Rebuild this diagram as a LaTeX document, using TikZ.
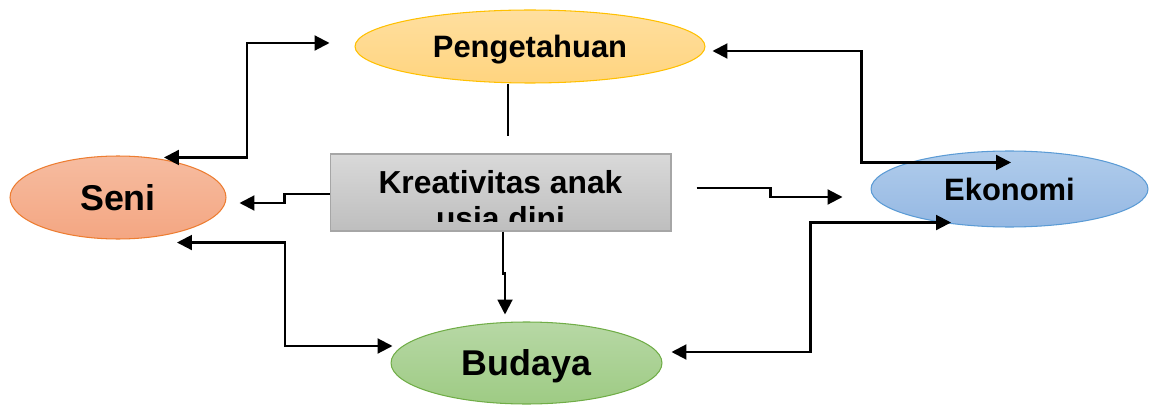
\documentclass[tikz,border=0pt]{standalone}
\usepackage{fontspec}
\setmainfont{Liberation Sans}
\usetikzlibrary{shapes.geometric,arrows.meta,calc}

\definecolor{pengTop}{HTML}{FFDF9F}
\definecolor{pengBot}{HTML}{FFD47F}
\definecolor{pengLine}{HTML}{FFC000}
\definecolor{seniTop}{HTML}{F6BCA0}
\definecolor{seniBot}{HTML}{F4A682}
\definecolor{seniLine}{HTML}{ED7D31}
\definecolor{ekoTop}{HTML}{B0CCEB}
\definecolor{ekoBot}{HTML}{95B8E3}
\definecolor{ekoLine}{HTML}{5B9BD5}
\definecolor{budTop}{HTML}{B7D8A5}
\definecolor{budBot}{HTML}{9ECB84}
\definecolor{budLine}{HTML}{70AD47}
\definecolor{kreatTop}{HTML}{D9D9D9}
\definecolor{kreatBot}{HTML}{BEBEBE}
\definecolor{kreatLine}{HTML}{A6A6A6}

\begin{document}
\begin{tikzpicture}[x=0.02cm,y=-0.02cm,
	>={Triangle[length=8.5pt,width=8.5pt]},
	blob/.style={ellipse,draw,inner sep=0pt,line width=0.6pt,text depth=0pt},
	bigtext/.style={font=\fontsize{20.4pt}{20.4pt}\selectfont\bfseries,text height=14.6pt},
	midtext/.style={font=\fontsize{17.6pt}{17.6pt}\selectfont\bfseries,text height=12.6pt},
	conn/.style={line width=1.2pt}]
	\useasboundingbox (0,0) rectangle (1151,405);

	% the five blocks
	\node[blob,midtext,draw=pengLine,top color=pengTop,bottom color=pengBot,
		minimum width=7.0cm,minimum height=1.46cm] (peng) at (530,46.5) {Pengetahuan};
	\node[blob,bigtext,draw=seniLine,top color=seniTop,bottom color=seniBot,
		minimum width=4.32cm,minimum height=1.66cm] (seni) at (118,197.5) {Seni};
	\node[blob,midtext,draw=ekoLine,top color=ekoTop,bottom color=ekoBot,
		minimum width=5.54cm,minimum height=1.52cm] (eko) at (1009.5,189) {Ekonomi};
	\node[blob,bigtext,draw=budLine,top color=budTop,bottom color=budBot,
		minimum width=5.42cm,minimum height=1.64cm] (bud) at (526.5,363) {Budaya};
	\node[draw=kreatLine,line width=0.6pt,top color=kreatTop,bottom color=kreatBot,
		minimum width=6.82cm,minimum height=1.54cm,inner sep=0pt] (kreat) at (500.5,192.5) {};
	\begin{scope}
		\clip (kreat.north west) rectangle ($(kreat.south east)+(0,-10)$);
		\node[align=center,inner sep=0pt,anchor=base,
			font=\fontsize{18.1pt}{20.4pt}\selectfont\bfseries] (kreattext)
			at ($(kreat.north)+(0,76)$) {Kreativitas anak\\usia dini};
	\end{scope}

	% connectors
	\draw[conn] ($(peng.south)+(-22,0)$) -- ++(0,52);
	\draw[conn,->] ($(kreat.south)+(2.5,0)$) -- ++(0,42) -| ($(bud.north)+(-21.5,-7)$);
	\draw[conn,->] ($(kreat.west)+(0,1.5)$) -- ++(-45,0) |- ($(seni.east)+(13,5.5)$);
	\draw[conn,->] ($(kreat.east)+(25,-4.5)$) -- ++(74,0) |- ($(eko.west)+(-28,8)$);
	\draw[conn,<->] ($(seni.north)+(46,2)$) -- ++(83,0) |- ($(peng.west)+(-25,-3.5)$);
	\draw[conn,<->] ($(seni.south)+(59,3)$) -- ++(108,0) |- ($(bud.west)+(2,-17)$);
	\draw[conn,<->] ($(peng.east)+(7,4.5)$) -- ++(149,0) |- ($(eko.north)+(1.5,12)$);
	\draw[conn,<->] ($(bud.east)+(9,-11)$) -- ++(139,0) |- ($(eko.south)+(-58.5,-5)$);
\end{tikzpicture}
\end{document}
